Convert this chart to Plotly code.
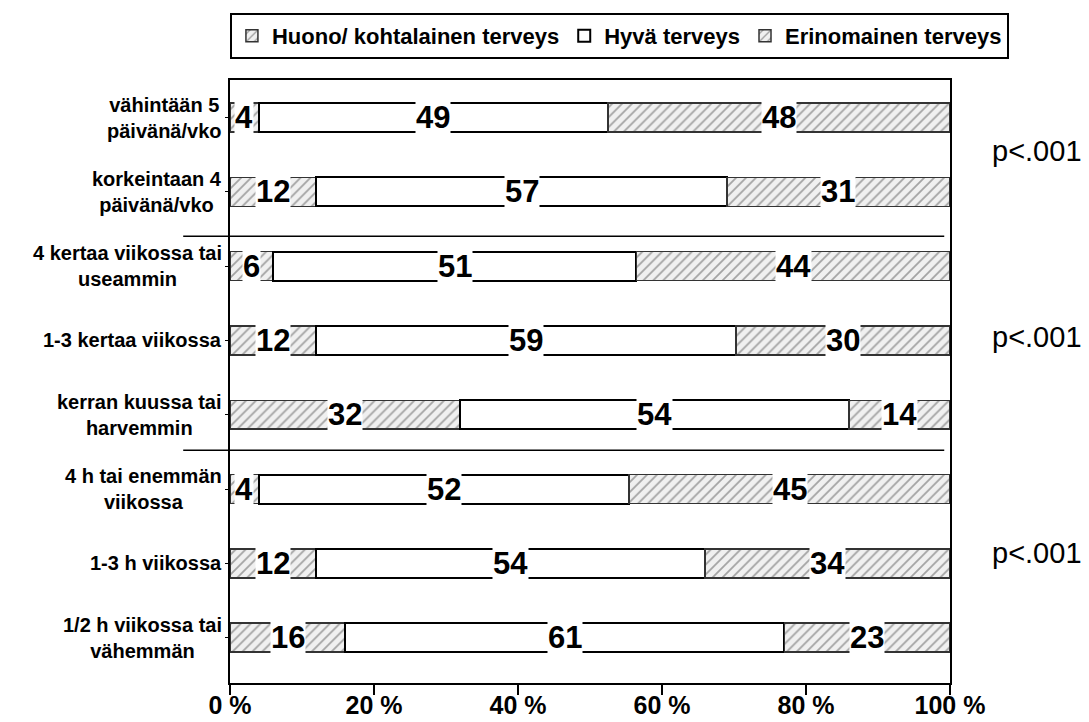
import plotly.graph_objects as go

categories = [
    "vähintään 5<br>päivänä/vko",
    "korkeintaan 4<br>päivänä/vko",
    "4 kertaa viikossa tai<br>useammin",
    "1-3 kertaa viikossa",
    "kerran kuussa tai<br>harvemmin",
    "4 h tai enemmän<br>viikossa",
    "1-3 h viikossa",
    "1/2 h viikossa tai<br>vähemmän",
]
huono = [4, 12, 6, 12, 32, 4, 12, 16]
hyva = [49, 57, 51, 59, 54, 52, 54, 61]
erinomainen = [48, 31, 44, 30, 14, 45, 34, 23]
series_names = ["Huono/ kohtalainen terveys", "Hyvä terveys", "Erinomainen terveys"]
x_ticks = [0, 20, 40, 60, 80, 100]
x_ticklabels = ["0 %", "20 %", "40 %", "60 %", "80 %", "100 %"]
p_labels = ["p<.001", "p<.001", "p<.001"]

FONT = "Arial, Liberation Sans, sans-serif"
ids = list(range(len(categories)))

hatch = dict(shape="/", fgcolor="#555555", bgcolor="#f0f0f0", size=7, solidity=0.25)

fig = go.Figure()
series = [huono, hyva, erinomainen]
for name, vals, i in zip(series_names, series, range(3)):
    if i == 1:
        marker = dict(color="white", line=dict(color="black", width=2))
    else:
        marker = dict(color="#f0f0f0", pattern=hatch, line=dict(color="#333333", width=1.5))
    fig.add_trace(go.Bar(
        y=ids, x=vals, name=name, orientation="h", marker=marker, width=0.39,
        hoverinfo="skip",
    ))

annotations = []
# value labels
for r in ids:
    vals = [huono[r], hyva[r], erinomainen[r]]
    tot = sum(vals)
    cum = 0
    for v in vals:
        start = cum / tot * 100
        cum += v
        end = cum / tot * 100
        annotations.append(dict(
            x=(start + end) / 2, y=r, xref="x", yref="y", text=str(v), showarrow=False,
            xanchor="center", yanchor="middle",
            font=dict(family=FONT, size=31, color="black", weight="bold"),
            bgcolor="white", borderpad=0,
        ))
# category labels
for r, c in zip(ids, categories):
    annotations.append(dict(
        x=0, y=r, xref="paper", yref="y", text=c, showarrow=False,
        xanchor="right", yanchor="middle", xshift=-6, align="center",
        font=dict(family=FONT, size=20, color="black", weight="bold"),
    ))
# p-values
for p, yp in zip(p_labels, [0.882, 0.574, 0.216]):
    annotations.append(dict(
        x=1.056, y=yp, xref="paper", yref="paper", text=p, showarrow=False,
        xanchor="left", yanchor="middle", font=dict(family=FONT, size=29, color="black"),
    ))

shapes = [
    dict(type="line", xref="paper", yref="paper", x0=-0.065, x1=0.992, y0=yy, y1=yy,
         line=dict(color="black", width=1.5))
    for yy in [0.741, 0.386]
]

fig.update_layout(
    width=1089, height=722,
    margin=dict(l=230, r=139, t=80, b=39, autoexpand=False),
    barmode="stack", barnorm="percent",
    plot_bgcolor="white", paper_bgcolor="white",
    font=dict(family=FONT, color="black"),
    annotations=annotations, shapes=shapes,
    showlegend=True,
    legend=dict(
        orientation="h", x=-0.0001, y=1.111, xanchor="left", yanchor="top",
        bordercolor="black", borderwidth=2, bgcolor="white",
        font=dict(family=FONT, size=22, color="black", weight="bold"),
        traceorder="normal", itemwidth=30,
    ),
    xaxis=dict(
        range=[0, 100], tickvals=x_ticks, ticktext=x_ticklabels, automargin=False,
        showgrid=False, zeroline=False, showline=True, linecolor="black", linewidth=2,
        mirror=True, ticks="outside", ticklen=10, tickwidth=2, tickcolor="black",
        ticklabelstandoff=-11,
        tickfont=dict(family=FONT, size=25, color="black", weight="bold"),
    ),
    yaxis=dict(
        range=[7.61, -0.505], tickvals=ids, showticklabels=False, automargin=False,
        showgrid=False, zeroline=False, showline=True, linecolor="black", linewidth=2,
        mirror=True, ticks="outside", ticklen=3, tickcolor="black",
    ),
)

fig.write_html("out.html")
